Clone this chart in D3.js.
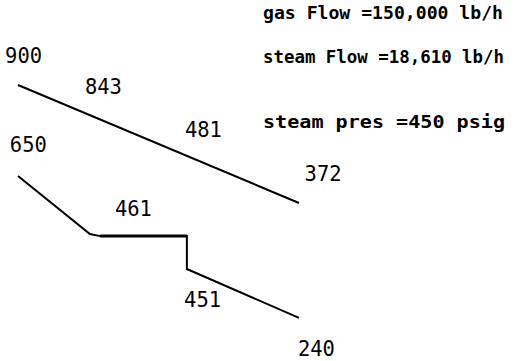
<!DOCTYPE html>
<html>
<head>
<meta charset="utf-8">
<script src="https://cdn.jsdelivr.net/npm/d3@7"></script>
<style>
  body { margin: 0; background: #fff; }
  text { font-family: "DejaVu Sans Mono", monospace; fill: #000; }
</style>
</head>
<body>
<svg id="chart-svg" width="519" height="361"></svg>
<script>
// schematic positions: x = % of exchanger length, y = drawing level (0 top .. 100 bottom)
const gasX = [0, 100];
const gasY = [0, 50.2];
const steamX = [0, 25.6, 29.2, 60.1, 60.1, 100];
const steamY = [38.7, 63.4, 64.3, 64.3, 78.3, 99.1];

// temperature labels (deg F) and where they sit on the schematic
const tempLabels = ["900", "843", "481", "372", "650", "461", "451", "240"];
const labelX = [-4.6, 23.8, 59.4, 102.0, -2.9, 34.5, 59.1, 99.6];
const labelY = [-9.4, 3.8, 22.1, 40.8, 28.5, 55.7, 94.5, 115.3];

const notes = ["gas Flow =150,000 lb/h", "steam Flow =18,610 lb/h", "steam pres =450 psig"];
const noteY = [-28.1, -9.4, 18.3];

class Chart {
  constructor() {
    this.width = 519;
    this.height = 361;
  }
  render = () => {
    const svg = d3.select("#chart-svg");
    const x = d3.scaleLinear().domain([0, 100]).range([18, 299]);
    const y = d3.scaleLinear().domain([0, 100]).range([85, 320]);

    const line = d3.line().x(d => x(d[0])).y(d => y(d[1]));

    const gas = gasX.map((d, i) => [d, gasY[i]]);
    const steam = steamX.map((d, i) => [d, steamY[i]]);

    svg.append("path")
      .attr("d", line(gas))
      .attr("fill", "none")
      .attr("stroke", "#000")
      .attr("stroke-width", 2);

    svg.append("path")
      .attr("d", line(steam))
      .attr("fill", "none")
      .attr("stroke", "#000")
      .attr("stroke-width", 2);

    // thicker flat (evaporator) piece
    svg.append("path")
      .attr("d", line(steam.slice(2, 4)))
      .attr("stroke", "#000")
      .attr("stroke-width", 3);

    svg.selectAll("text.temp").data(tempLabels)
      .join("text")
      .attr("class", "temp")
      .attr("x", (d, i) => x(labelX[i]))
      .attr("y", (d, i) => y(labelY[i]))
      .attr("textLength", 37)
      .attr("lengthAdjust", "spacingAndGlyphs")
      .style("font-size", "22px")
      .text(d => d);

    svg.selectAll("text.note").data(notes)
      .join("text")
      .attr("class", "note")
      .attr("x", 263)
      .attr("y", (d, i) => y(noteY[i]))
      .attr("textLength", (d, i) => [240, 241, 242][i])
      .attr("lengthAdjust", "spacingAndGlyphs")
      .style("font-size", "17px")
      .style("font-weight", "bold")
      .text(d => d);
  }
}

new Chart().render();
</script>
</body>
</html>
